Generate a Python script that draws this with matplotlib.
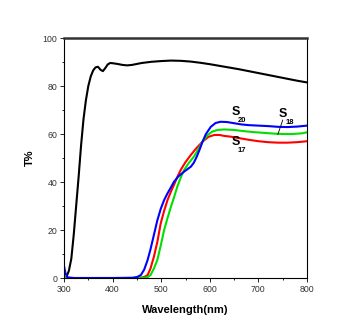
import matplotlib
matplotlib.use('Agg')
import matplotlib.pyplot as plt

plt.rcParams['font.family'] = ['Liberation Sans', 'DejaVu Sans']

# ---- data ----
wl_black = [305, 310, 315, 320, 325, 330, 335, 340, 345, 350, 355, 360, 365, 370,
            375, 380, 385, 390, 395, 400, 410, 420, 430, 440, 450, 460, 480, 500,
            520, 540, 560, 580, 600, 620, 640, 660, 680, 700, 720, 740, 760, 780, 800]
t_black = [0.5, 3, 8, 18, 30, 42, 55, 66, 74, 80, 84, 86.5, 87.8, 88,
           86.8, 86.2, 87.5, 89, 89.6, 89.5, 89.2, 88.8, 88.6, 88.8, 89.2, 89.6, 90.1, 90.4,
           90.6, 90.5, 90.2, 89.7, 89.1, 88.4, 87.7, 87.0, 86.2, 85.4, 84.6, 83.8, 83.0, 82.2, 81.5]

wl_s20 = [300, 303, 307, 320, 350, 400, 440, 450, 458, 465, 472, 478, 485, 492, 499,
          506, 513, 520, 526, 535, 547, 555, 561, 567, 573, 579, 585, 592, 602, 612,
          622, 635, 650, 665, 680, 700, 720, 740, 760, 780, 800]
t_s20 = [5, 2, 0.3, 0, 0, 0, 0.1, 0.4, 1.2, 3.5, 7.5, 12, 18, 24, 28.8,
         32.5, 35.3, 37.8, 40, 42.3, 44.3, 45.5, 46.4, 48, 50.5, 53.5, 56.8, 60, 63, 64.6,
         65.1, 65.0, 64.5, 64.0, 63.7, 63.5, 63.3, 63.0, 62.9, 63.1, 63.5]

wl_s17 = [300, 350, 400, 450, 460, 466, 472, 478, 485, 492, 499, 506, 513, 520, 526,
          533, 540, 550, 561, 572, 585, 597, 609, 620, 630, 643, 660, 680, 700, 720,
          740, 760, 780, 800]
t_s17 = [0, 0, 0, 0, 0.2, 0.5, 1.2, 4, 8.9, 15, 22.8, 28, 32.5, 36, 38.7,
         42, 45, 48.3, 51.3, 54, 56.8, 58.8, 59.6, 59.6, 59.2, 58.9, 58.3, 57.6, 57.0, 56.6,
         56.4, 56.4, 56.6, 57.0]

wl_s18 = [300, 350, 400, 450, 465, 472, 478, 485, 492, 499, 506, 513, 520, 527,
          533, 540, 547, 557, 567, 576, 585, 595, 605, 616, 630, 650, 670, 690, 710,
          730, 750, 770, 790, 800]
t_s18 = [0, 0, 0, 0, 0.1, 0.4, 1.2, 4, 7.5, 13.5, 20, 25, 29.7, 34,
         38, 41.8, 45, 48, 50.5, 53.5, 56.8, 59.5, 61, 61.7, 61.9, 61.7, 61.2, 60.8, 60.5,
         60.2, 60.0, 60.0, 60.3, 60.7]

xticks = [300, 400, 500, 600, 700, 800]
yticks = [0, 20, 40, 60, 80, 100]

# ---- figure ----
fig = plt.figure(figsize=(3.56, 3.35), dpi=100)
ax = fig.add_axes([0.1798, 0.1701, 0.6826, 0.7164])

ax.plot(wl_black, t_black, color='black', lw=1.5)
ax.plot(wl_s17, t_s17, color='#ff0000', lw=1.5)
ax.plot(wl_s18, t_s18, color='#00e000', lw=1.5)
ax.plot(wl_s20, t_s20, color='#0000ff', lw=1.5)

ax.set_xlim(300, 800)
ax.set_ylim(0, 100)
ax.set_xticks(xticks)
ax.set_yticks(yticks)
ax.set_xticks([350, 450, 550, 650, 750], minor=True)
ax.set_yticks([10, 30, 50, 70, 90], minor=True)
ax.tick_params(which='major', direction='out', length=3, width=0.6, labelsize=6.3, pad=2,
               labelcolor='#333333')
ax.tick_params(which='minor', direction='out', length=1.5, width=0.6)
for s in ['left', 'right', 'bottom']:
    ax.spines[s].set_linewidth(0.8)
ax.spines['top'].set_linewidth(1.8)
ax.spines['top'].set_color('#333333')

ax.set_xlabel('Wavelength(nm)', fontsize=8, fontweight='bold', labelpad=8)
ax.set_ylabel('T%', fontsize=8, fontweight='bold', labelpad=5)

# curve labels
lab_kw = dict(fontweight='bold', color='black')
ax.text(644, 69, 'S', fontsize=9, ha='left', va='center', **lab_kw)
ax.text(658, 65.5, '20', fontsize=5.5, ha='left', va='center', **lab_kw)
ax.text(644, 56.5, 'S', fontsize=9, ha='left', va='center', **lab_kw)
ax.text(658, 53, '17', fontsize=5.5, ha='left', va='center', **lab_kw)
ax.text(742, 68.5, 'S', fontsize=9, ha='left', va='center', **lab_kw)
ax.text(756, 65, '18', fontsize=5.5, ha='left', va='center', **lab_kw)
ax.plot([750, 740], [65.8, 59.8], color='black', lw=0.6)

fig.savefig('out.png', dpi=100)
